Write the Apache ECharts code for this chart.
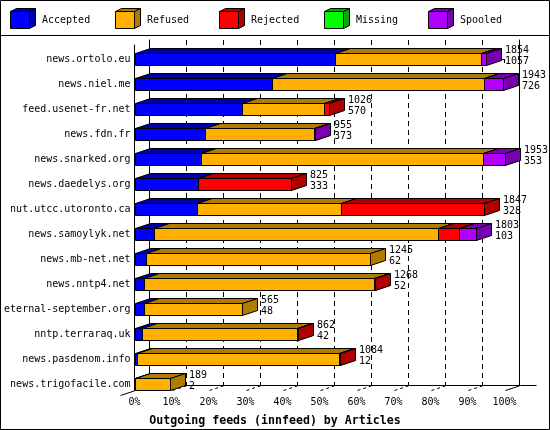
<!DOCTYPE html>
<html><head><meta charset="utf-8">
<script src="https://cdn.jsdelivr.net/npm/echarts@6/dist/echarts.min.js"></script>
<style>html,body{margin:0;padding:0;background:#fff}#c{width:550px;height:430px}</style>
</head><body><div id="c"></div>
<script>
const categories = ['news.ortolo.eu','news.niel.me','feed.usenet-fr.net','news.fdn.fr','news.snarked.org','news.daedelys.org','nut.utcc.utoronto.ca','news.samoylyk.net','news.mb-net.net','news.nntp4.net','eternal-september.org','nntp.terraraq.uk','news.pasdenom.info','news.trigofacile.com'];
const statuses = ['Accepted','Refused','Rejected','Missing','Spooled'];
const accepted = [1057,726,570,373,353,333,328,103,62,52,48,42,12,2];
const refused  = [771,1118,428,573,1486,0,760,1499,1183,1211,517,815,1065,187];
const rejected = [0,0,28,0,0,492,759,112,0,5,0,5,7,0];
const missing  = [0,0,0,0,0,0,0,0,0,0,0,0,0,0];
const spooled  = [26,99,0,9,114,0,0,89,0,0,0,0,0,0];
const totals   = [1854,1943,1026,955,1953,825,1847,1803,1245,1268,565,862,1084,189];
const tickLabels = ['0%','10%','20%','30%','40%','50%','60%','70%','80%','90%','100%'];

const colors = ['#0000ff','#ffb000','#ff0000','#00ff00','#b000ff'];
const darkColors = ['#0000a8','#b07c00','#b00000','#00a800','#7800b0'];
const FONT = '"DejaVu Sans Mono", "Liberation Mono", monospace';
const DX = 15, DY = 5, H = 12;

const seriesValues = [accepted, refused, rejected, missing, spooled];
const maxTotal = Math.max(...totals);
const pct = v => v * 100 / maxTotal;
const r = v => Math.round(v) + 0.5;

const barSeries = statuses.map((name, k) => {
  const data = categories.map((c, i) => {
    let start = 0;
    for (let j = 0; j < k; j++) start += seriesValues[j][i];
    return [i, pct(start), pct(start + seriesValues[k][i])];
  });
  return {
    type: 'custom', name, xAxisIndex: 0, yAxisIndex: 0, z: 3,
    encode: { x: [1, 2], y: 0 },
    data,
    renderItem(params, api) {
      const i = api.value(0), a = api.value(1), b = api.value(2);
      if (!(b > a)) return null;
      const p0 = api.coord([a, i]), p1 = api.coord([b, i]);
      const x0 = r(p0[0]), x1 = r(p1[0]);
      const top = r(p0[1] - H / 2), bot = top + H;
      const st = (f) => ({ fill: f, stroke: '#000', lineWidth: 1 });
      return { type: 'group', children: [
        { type: 'polygon', shape: { points: [[x0, top], [x0 + DX, top - DY], [x1 + DX, top - DY], [x1, top]] }, style: st(darkColors[k]) },
        { type: 'polygon', shape: { points: [[x1, top], [x1 + DX, top - DY], [x1 + DX, bot - DY], [x1, bot]] }, style: st(darkColors[k]) },
        { type: 'rect', shape: { x: x0, y: top, width: x1 - x0, height: H }, style: st(colors[k]) }
      ]};
    }
  };
});

const labelSeries = {
  type: 'custom', name: 'labels', xAxisIndex: 0, yAxisIndex: 0, z: 4, silent: true,
  encode: { x: 1, y: 0 },
  data: categories.map((c, i) => [i, pct(totals[i]), totals[i], accepted[i]]),
  renderItem(params, api) {
    const p = api.coord([api.value(1), api.value(0)]);
    const x = Math.round(p[0]) + DX + 4;
    return { type: 'group', children: [
      { type: 'text', style: { text: String(api.value(2)), x, y: p[1] - 9, font: '10px ' + FONT, fill: '#000', textAlign: 'left', textVerticalAlign: 'middle' } },
      { type: 'text', style: { text: String(api.value(3)), x, y: p[1] + 2, font: '10px ' + FONT, fill: '#000', textAlign: 'left', textVerticalAlign: 'middle' } }
    ]};
  }
};

const frameSeries = {
  type: 'custom', name: 'frame', xAxisIndex: 0, yAxisIndex: 0, z: 1, silent: true,
  encode: { x: 0, y: 1 },
  data: [[0, 0]],
  renderItem(params, api) {
    const cs = params.coordSys;
    const yb = r(cs.y + cs.height);
    const ln = (x1, y1, x2, y2, dash) => ({ type: 'line', shape: { x1, y1, x2, y2 }, style: { stroke: '#000', lineWidth: 1, lineDash: dash || null } });
    const xl = r(cs.x), xr = r(cs.x + cs.width);
    const kids = [ln(xl - DX, yb + DY, xl, yb), ln(xr, yb, xr + DX, yb - DY), ln(xr + DX, yb - DY, xr + DX + 16, yb - DY)];
    for (let t = 1; t < 10; t++) {
      const x = r(api.coord([t * 10, 0])[0]);
      kids.push(ln(x, yb, x + DX, yb - DY, [3, 3]));
    }
    return { type: 'group', children: kids };
  }
};

const legendGraphics = [];
statuses.forEach((name, k) => {
  const x0 = 10 + Math.round(k * 104.5), y0 = 11, w = 19, h = 17, dx = 6, dy = 3;
  legendGraphics.push(
    { type: 'polygon', shape: { points: [[x0 + .5, y0 + .5], [x0 + dx + .5, y0 - dy + .5], [x0 + w + dx + .5, y0 - dy + .5], [x0 + w + .5, y0 + .5]] }, style: { fill: darkColors[k], stroke: '#000', lineWidth: 1 } },
    { type: 'polygon', shape: { points: [[x0 + w + .5, y0 + .5], [x0 + w + dx + .5, y0 - dy + .5], [x0 + w + dx + .5, y0 + h - dy + .5], [x0 + w + .5, y0 + h + .5]] }, style: { fill: darkColors[k], stroke: '#000', lineWidth: 1 } },
    { type: 'rect', shape: { x: x0 + .5, y: y0 + .5, width: w, height: h }, style: { fill: colors[k], stroke: '#000', lineWidth: 1 } },
    { type: 'text', style: { text: name, x: x0 + 32, y: 20, font: '10px ' + FONT, fill: '#000', textVerticalAlign: 'middle' } }
  );
});

const chart = echarts.init(document.getElementById('c'), null, { renderer: 'canvas' });
chart.setOption({
  backgroundColor: '#fff',
  animation: false,
  title: { text: 'Outgoing feeds (innfeed) by Articles', left: 'center', top: 410,
    textStyle: { fontFamily: FONT, fontSize: 11.6, fontWeight: 'bold', color: '#000' } },
  grid: [
    { left: 134.5, right: 45.5, top: 45, bottom: 40 },
    { left: 149.5, right: 30.5, top: 40, bottom: 45 }
  ],
  xAxis: [
    { type: 'value', gridIndex: 0, min: 0, max: 100, interval: 10,
      axisLine: { show: true, lineStyle: { color: '#000', width: 1 } },
      axisTick: { show: true, length: 4, lineStyle: { color: '#000' } },
      splitLine: { show: false },
      axisLabel: { margin: 7, color: '#000', fontFamily: FONT, fontSize: 10, formatter: v => tickLabels[Math.round(v / 10)] } },
    { type: 'value', gridIndex: 1, min: 0, max: 100, interval: 10,
      axisLine: { show: true, lineStyle: { color: '#000', width: 1 } },
      axisTick: { show: false }, axisLabel: { show: false },
      splitLine: { show: true, showMinLine: false, showMaxLine: false, lineStyle: { color: '#000', type: [5, 4], width: 1 } } }
  ],
  yAxis: [
    { type: 'value', gridIndex: 0, inverse: true, min: -0.56, max: 13.24,
      axisLine: { show: true, lineStyle: { color: '#000', width: 1 } },
      axisTick: { show: false }, splitLine: { show: false },
      axisLabel: { show: true, margin: 4, color: '#000', fontFamily: FONT, fontSize: 10,
        customValues: categories.map((c, i) => i), formatter: v => categories[Math.round(v)] || '' } },
    { type: 'value', gridIndex: 1, min: 0, max: 1, position: 'left',
      axisLine: { show: true, lineStyle: { color: '#000', width: 1 } },
      axisTick: { show: false }, axisLabel: { show: false }, splitLine: { show: false } },
    { type: 'value', gridIndex: 1, min: 0, max: 1, position: 'right',
      axisLine: { show: true, lineStyle: { color: '#000', width: 1 } },
      axisTick: { show: false }, axisLabel: { show: false }, splitLine: { show: false } }
  ],
  graphic: [
    { type: 'rect', shape: { x: 0.5, y: 0.5, width: 549, height: 429 }, style: { fill: 'none', stroke: '#000', lineWidth: 1 }, z: 10 },
    { type: 'line', shape: { x1: 0, y1: 35.5, x2: 550, y2: 35.5 }, style: { stroke: '#000', lineWidth: 1 }, z: 10 },
    ...legendGraphics
  ],
  series: [frameSeries, ...barSeries, labelSeries]
});
</script></body></html>
